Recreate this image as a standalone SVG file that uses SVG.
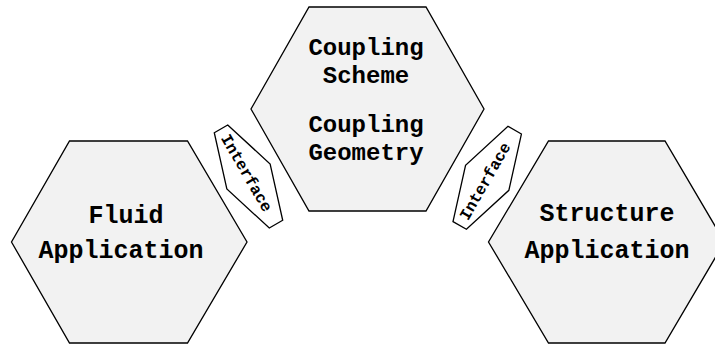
<svg xmlns="http://www.w3.org/2000/svg" width="715" height="345" viewBox="0 0 715 345">
<style>
.hex{fill:#f2f2f2;stroke:#000;stroke-width:1.3;stroke-linejoin:miter}
.ifc{fill:#fff;stroke:#000;stroke-width:1.3}
.t{font-family:"Liberation Mono","Courier New",monospace;font-weight:bold;font-size:25px;fill:#000;text-anchor:middle}
.tc{font-family:"Liberation Mono","Courier New",monospace;font-weight:bold;font-size:24px;fill:#000;text-anchor:middle}
.ti{font-family:"Liberation Mono","Courier New",monospace;font-weight:bold;font-size:16px;fill:#000;text-anchor:middle}
</style>
<rect width="715" height="345" fill="#fff"/>
<g id="coupling">
<polygon class="hex" points="309,7 426,7 484,109 426,211 309,211 251,109"/>
<text class="tc" x="366" y="55">Coupling</text>
<text class="tc" x="366" y="83">Scheme</text>
<text class="tc" x="366" y="132">Coupling</text>
<text class="tc" x="366" y="160">Geometry</text>
</g>
<g id="fluid">
<polygon class="hex" points="69.5,141 187.5,141 247,242 187.5,343 69.5,343 11.5,242"/>
<text class="t" x="126" y="223">Fluid</text>
<text class="t" x="121" y="258">Application</text>
</g>
<g id="structure">
<polygon class="hex" points="548.5,141 665,141 724.5,242 665,343 548.5,343 488.5,242"/>
<text class="t" x="607" y="221">Structure</text>
<text class="t" x="607" y="258">Application</text>
</g>
<g id="interface-left" transform="translate(248.5,176.5) rotate(60)">
<polygon class="ifc" points="-55,-7.75 0,-25 55,-7.75 55,7.75 0,25 -55,7.75"/>
<text class="ti" x="-4" y="5">Interface</text>
</g>
<g id="interface-right" transform="translate(487.2,177.8) rotate(-60)">
<polygon class="ifc" points="-55,-7.75 0,-25 55,-7.75 55,7.75 0,25 -55,7.75"/>
<text class="ti" x="-4" y="5">Interface</text>
</g>
<g id="connectors"></g>
</svg>
